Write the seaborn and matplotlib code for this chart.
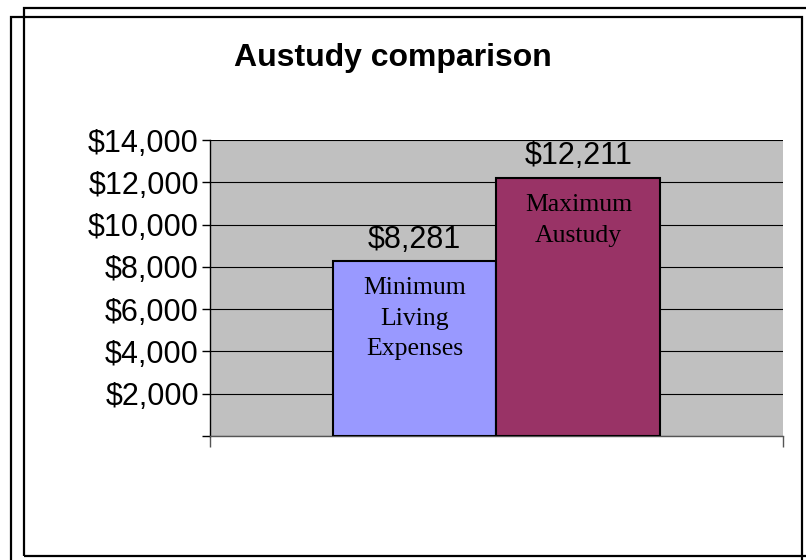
import pandas as pd
import matplotlib.pyplot as plt
import seaborn as sns
from matplotlib.patches import Rectangle

# Data
categories = ["Austudy"]
series = ["Minimum Living Expenses", "Maximum Austudy"]
series_labels = ["Minimum\nLiving\nExpenses", "Maximum\nAustudy"]
values = [8281, 12211]
colors = ["#9999FF", "#993366"]
yticks = [0, 2000, 4000, 6000, 8000, 10000, 12000, 14000]
ytick_labels = ["", "$2,000", "$4,000", "$6,000", "$8,000", "$10,000", "$12,000", "$14,000"]

df = pd.DataFrame({"group": categories * len(series), "series": series, "value": values})

sns.set_style("white")
plt.rcParams["font.family"] = ["Liberation Sans", "DejaVu Sans"]
plt.rcParams["text.color"] = "black"
plt.rcParams["ytick.color"] = "black"
plt.rcParams["xtick.color"] = "black"

fig = plt.figure(figsize=(8.06, 5.6), dpi=100)
ax = fig.add_axes([0.2605, 0.2214, 0.7109, 0.5286])
ax.set_facecolor("#C0C0C0")

sns.barplot(data=df, x="group", y="value", hue="series", palette=colors,
            width=0.572, edgecolor="black", linewidth=1.5, legend=False,
            saturation=1, ax=ax, zorder=3)

ax.set_xlim(-0.5, 0.5)
ax.set_ylim(0, 14000)
ax.set_yticks(yticks)
ax.set_yticklabels(ytick_labels, fontsize=22)
ax.set_xticks([-0.5, 0.5])
ax.set_xticklabels(["", ""])
ax.set_xlabel("")
ax.set_ylabel("")
ax.tick_params(axis="y", direction="out", length=6, width=1, color="black", left=True, pad=2)
ax.tick_params(axis="x", direction="out", length=8, width=1, color="#555555", bottom=True)
ax.yaxis.grid(True, color="black", linewidth=0.8)
ax.set_axisbelow(True)

for side in ["top", "right"]:
    ax.spines[side].set_visible(False)
ax.spines["left"].set_color("black")
ax.spines["left"].set_linewidth(1)
ax.spines["bottom"].set_color("#555555")
ax.spines["bottom"].set_linewidth(1)

# value labels and in-bar labels
for patch, val, lab in zip(ax.patches, values, series_labels):
    cx = patch.get_x() + patch.get_width() / 2
    top = patch.get_height()
    ax.text(cx, top + 300, f"${val:,}", ha="center", va="bottom", fontsize=22)
    ax.text(cx, top - 780, lab, ha="center", va="top", fontsize=18.5,
            family=["Liberation Serif", "DejaVu Serif"], linespacing=1.5, zorder=4)

fig.text(393 / 806, 1 - 58 / 560, "Austudy comparison", ha="center", va="center",
         fontsize=23, fontweight="bold")

# chart frames
fig.patches.append(Rectangle((24 / 806, 4 / 560), 800 / 806, 548 / 560, fill=False,
                             edgecolor="black", linewidth=1.6, transform=fig.transFigure))
fig.patches.append(Rectangle((11 / 806, -10 / 560), 791 / 806, 553 / 560, fill=False,
                             edgecolor="black", linewidth=1.6, transform=fig.transFigure))

fig.savefig("out.png", dpi=100)
